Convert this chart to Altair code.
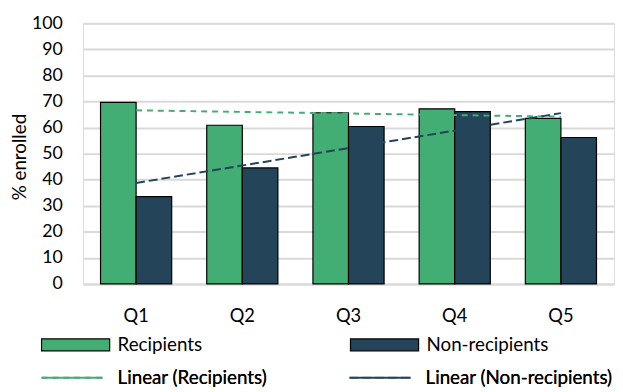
import altair as alt
import pandas as pd

quintiles = ["Q1", "Q2", "Q3", "Q4", "Q5"]
recipients = [69.7, 60.9, 65.7, 67.2, 63.5]
non_recipients = [33.5, 44.5, 60.4, 66.1, 56.2]
series_names = ["Recipients", "Non-recipients"]
trend_names = ["Linear (Recipients)", "Linear (Non-recipients)"]
colors = ["#43AE74", "#234459"]
y_ticks = [0, 10, 20, 30, 40, 50, 60, 70, 80, 90, 100]

rows = []
for i, q in enumerate(quintiles):
    rows.append({"quintile": q, "idx": i + 1, "series": series_names[0], "value": recipients[i]})
    rows.append({"quintile": q, "idx": i + 1, "series": series_names[1], "value": non_recipients[i]})
df = pd.DataFrame(rows)

FONT = "Lato"
TXT = "#000000"

x_scale = alt.Scale(domain=quintiles, paddingInner=0.33, paddingOuter=0.165)
y_scale = alt.Scale(domain=[0, 100], nice=False)

x_axis = alt.Axis(title=None, labelAngle=0, ticks=False, domainColor="#d9d9d9",
                  domainWidth=2, labelPadding=23, labelFontSize=18.5,
                  labelFont=FONT, labelColor=TXT)
y_axis = alt.Axis(title="% enrolled", values=y_ticks, tickCount=20, ticks=False,
                  domain=False, gridColor="#d9d9d9", gridWidth=2, labelOverlap=False,
                  labelFontSize=18, labelFont=FONT, labelColor=TXT, labelPadding=21,
                  titleFont=FONT, titleFontSize=19, titleFontWeight="normal",
                  titleColor=TXT, titleAngle=270, titleX=-58, titleY=135,
                  titleAlign="center", titleBaseline="alphabetic")

bars = alt.Chart(df).mark_bar(stroke="black", strokeWidth=1.2).encode(
    x=alt.X("quintile:N", scale=x_scale, sort=quintiles, axis=x_axis),
    xOffset=alt.XOffset("series:N", sort=series_names,
                        scale=alt.Scale(domain=series_names, paddingInner=0, paddingOuter=0)),
    y=alt.Y("value:Q", scale=y_scale, axis=y_axis),
    fill=alt.Fill("series:N", sort=series_names,
                  scale=alt.Scale(domain=series_names, range=colors),
                  legend=alt.Legend(title=None, orient="none", legendX=-43, legendY=290,
                                    direction="horizontal", columnPadding=147, padding=0,
                                    symbolType="M-1,-0.174H1V0.174H-1Z", symbolSize=4761,
                                    symbolStrokeColor="black", symbolStrokeWidth=1.2,
                                    labelFont=FONT, labelFontSize=19, labelColor=TXT,
                                    labelOffset=7, labelLimit=300)),
)

trend_legend = alt.Legend(title=None, orient="none", legendX=-43, legendY=327,
                          direction="horizontal", columnPadding=79, padding=0,
                          symbolType="stroke", symbolSize=3844, symbolStrokeWidth=2,
                          labelFont=FONT, labelFontSize=19, labelColor=TXT,
                          labelOffset=14, labelLimit=300)

lines = alt.Chart(df).transform_regression(
    "idx", "value", groupby=["series"], method="linear"
).transform_calculate(
    quintile="'Q' + round(datum.idx)",
    trend="'Linear (' + datum.series + ')'"
).mark_line(strokeWidth=2).encode(
    x=alt.X("quintile:N", scale=x_scale, sort=quintiles, axis=x_axis),
    y=alt.Y("value:Q", scale=y_scale, axis=y_axis),
    stroke=alt.Stroke("trend:N", sort=trend_names,
                      scale=alt.Scale(domain=trend_names, range=colors),
                      legend=trend_legend),
    strokeDash=alt.StrokeDash("trend:N", sort=trend_names,
                              scale=alt.Scale(domain=trend_names, range=[[6, 5], [9, 4]]),
                              legend=trend_legend),
)

chart = alt.layer(bars, lines).resolve_scale(
    fill="independent", stroke="independent"
).properties(
    width=538, height=264, autosize=alt.AutoSizeParams(type="none"),
    padding={"left": 76, "top": 13, "right": 1, "bottom": 110}
).configure_view(stroke=None).configure(background="white")

chart.save("out.html", embed_options={"renderer": "svg", "actions": False})
